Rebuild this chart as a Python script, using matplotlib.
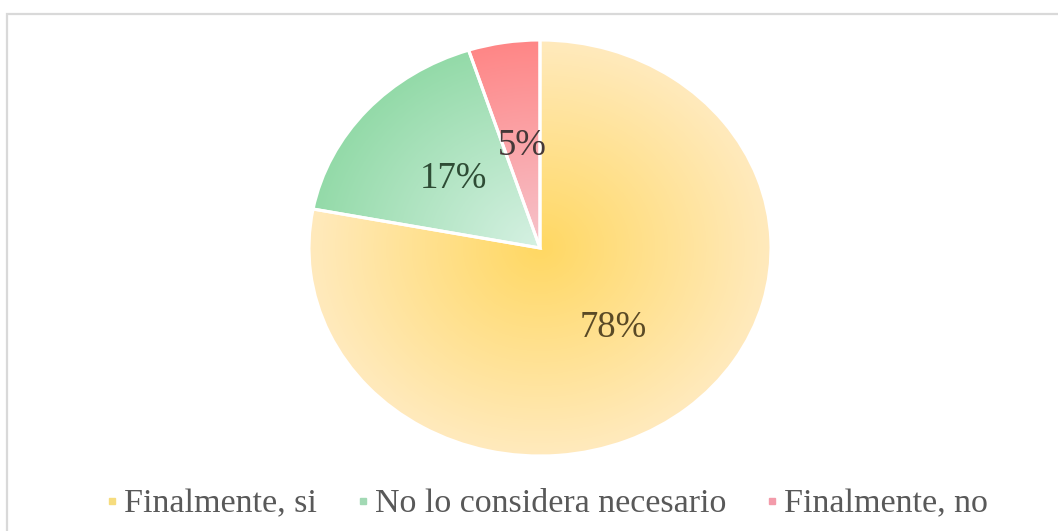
import numpy as np
import matplotlib as mpl
import matplotlib.pyplot as plt
from matplotlib.colors import LinearSegmentedColormap
from matplotlib.lines import Line2D
from matplotlib.patches import Rectangle

mpl.rcParams['font.family'] = ['Liberation Serif', 'DejaVu Serif']

labels = ['Finalmente, si', 'No lo considera necesario', 'Finalmente, no']
values = [78, 17, 5]

# (inner colour, outer colour) of each slice's radial fill
inner_colors = ['#FFD863', '#D6F1E3', '#F6C4CC']
outer_colors = ['#FFEABD', '#93DAA8', '#FF8686']
label_colors = ['#5A4A26', '#2E4C35', '#453838']
legend_colors = ['#F6DC7E', '#A2D9B4', '#F39BAA']

W, H = 1058, 531


def radial_fill(ax, wedge, c_in, c_out, zorder=2):
    cmap = LinearSegmentedColormap.from_list('fill', [c_in, c_out])
    xs = np.linspace(-1.05, 1.05, 400)
    xx, yy = np.meshgrid(xs, xs)
    rr = np.clip(np.hypot(xx, yy), 0, 1)
    im = ax.imshow(rr, cmap=cmap, vmin=0, vmax=1, origin='lower', aspect='auto',
                   extent=(-1.05, 1.05, -1.05, 1.05), interpolation='bilinear',
                   zorder=zorder)
    im.set_clip_path(wedge)


def main():
    fig = plt.figure(figsize=(W / 100, H / 100), dpi=100)
    fig.patch.set_facecolor('white')

    # light grey frame round the chart area
    fig.add_artist(Rectangle((7 / W, -0.02), 1.1, (H - 14) / H + 0.02,
                             transform=fig.transFigure, fill=False,
                             edgecolor='#D9D9D9', lw=1.6))

    # pie is drawn a little wider than tall
    cx, cy, rx, ry = 540, 248, 231, 208
    pad = 1.05
    ax = fig.add_axes([(cx - rx * pad) / W, (H - cy - ry * pad) / H,
                       2 * rx * pad / W, 2 * ry * pad / H])

    wedges, texts, autotexts = ax.pie(values, startangle=90, counterclock=False,
                                      autopct='%d%%', pctdistance=0.5,
                                      wedgeprops=dict(edgecolor='white', lw=2.2))

    for w, c_in, c_out in zip(wedges, inner_colors, outer_colors):
        radial_fill(ax, w, c_in, c_out)
        w.set_facecolor('none')
        w.set_zorder(3)

    ax.set_aspect('auto')
    ax.set_xlim(-pad, pad)
    ax.set_ylim(-pad, pad)
    ax.axis('off')

    for t, c in zip(autotexts, label_colors):
        t.set_fontsize(26.5)
        t.set_color(c)
        t.set_zorder(4)

    handles = [Line2D([], [], marker='s', ls='', markersize=5,
                      markerfacecolor=c, markeredgecolor=c) for c in legend_colors]
    fig.legend(handles, labels, loc='center', bbox_to_anchor=(545.5 / W, 1 - 504 / H),
               ncol=3, frameon=False, fontsize=24.5, labelcolor='#595959',
               handlelength=0.5, handletextpad=0.1, columnspacing=1.1,
               borderpad=0)

    fig.savefig('out.png', dpi=100, facecolor='white')


if __name__ == '__main__':
    main()
